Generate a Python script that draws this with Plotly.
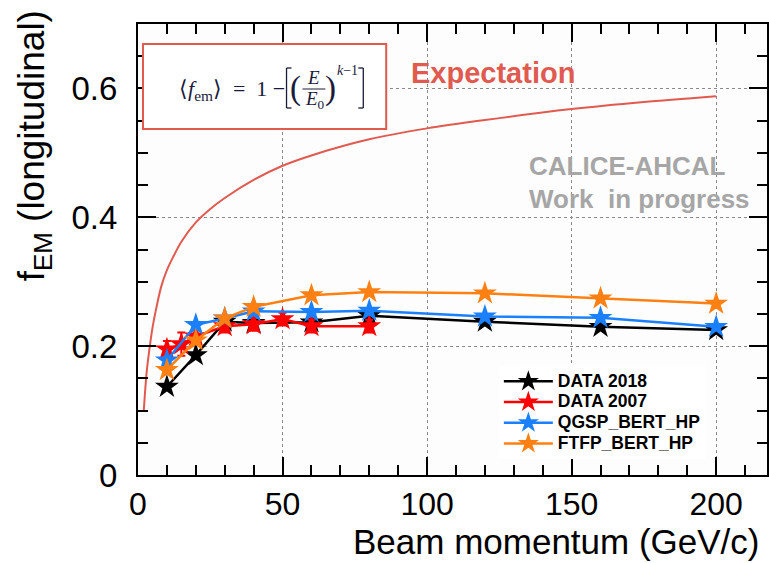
import plotly.graph_objects as go

# ---- data ---------------------------------------------------------------
e_2018 = [10, 20, 30, 40, 60, 80, 120, 160, 200]
f_2018 = [0.137, 0.186, 0.238, 0.236, 0.237, 0.247, 0.238, 0.230, 0.225]

e_2007 = [10, 15, 20, 30, 40, 50, 60, 80]
f_2007 = [0.195, 0.203, 0.215, 0.231, 0.234, 0.242, 0.231, 0.231]
err_2007 = [0.013, 0.018, 0.012, 0.010, 0.010, 0.010, 0.010, 0.010]

e_qgsp = [10, 20, 30, 40, 60, 80, 120, 160, 200]
f_qgsp = [0.178, 0.233, 0.243, 0.254, 0.253, 0.255, 0.246, 0.244, 0.230]

e_ftfp = [10, 20, 30, 40, 60, 80, 120, 160, 200]
f_ftfp = [0.163, 0.209, 0.243, 0.261, 0.279, 0.284, 0.282, 0.274, 0.266]

# expectation <f_em> = 1 - (E/E0)^(k-1), sampled values
e_expect = [2, 3, 4, 5, 6, 8, 10, 12, 15, 20, 25, 30, 40, 50, 60, 80,
            100, 120, 150, 175, 200]
f_expect = [0.100, 0.160, 0.197, 0.228, 0.252, 0.292, 0.318, 0.337, 0.362,
            0.392, 0.413, 0.430, 0.458, 0.480, 0.496, 0.521, 0.538, 0.551,
            0.568, 0.579, 0.588]

x_ticks = [0, 50, 100, 150, 200]
y_ticks = [0, 0.2, 0.4, 0.6]
y_ticktext = ["0", "0.2", "0.4", "0.6"]

# ---- page geometry (pixels) --------------------------------------------
W, H = 769, 563
L, R, T, B = 138, 0, 24, 88
PW, PH = W - L - R, H - T - B


def px(xp):
    return (xp - L) / PW


def py(yp):
    return (H - B - yp) / PH


SANS = "Liberation Sans, Arial, Helvetica, sans-serif"
SERIF = "Liberation Serif, Times New Roman, serif"
RED_EXP = "#e05a50"
INK = "#1a1a3a"

fig = go.Figure()

fig.add_trace(go.Scatter(
    x=e_expect, y=f_expect, mode="lines",
    line=dict(color=RED_EXP, width=2, shape="spline", smoothing=0.8),
    showlegend=False, hoverinfo="skip"))

series = [
    ("DATA 2018", e_2018, f_2018, None, "#000000"),
    ("DATA 2007", e_2007, f_2007, err_2007, "#ff0000"),
    ("QGSP_BERT_HP", e_qgsp, f_qgsp, None, "#1a80ff"),
    ("FTFP_BERT_HP", e_ftfp, f_ftfp, None, "#ff8012"),
]
for name, xs, ys, err, col in series:
    fig.add_trace(go.Scatter(
        x=xs, y=ys, mode="lines+markers",
        name='<span style="font-size:17.5px"><b>%s</b></span>' % name,
        line=dict(color=col, width=2.5),
        marker=dict(symbol="star", size=18, color=col, line=dict(width=0)),
        error_y=(dict(type="data", array=err, color=col, thickness=2,
                      width=4) if err else None),
    ))

axis_common = dict(
    ticks="inside", tickwidth=2, ticklen=18, tickcolor="black",
    showline=True, linewidth=2, linecolor="black", mirror="ticks",
    showgrid=True, gridcolor="#8a8a8a", griddash="dot", gridwidth=1,
    zeroline=False,
)

fig.update_xaxes(range=[0, PW / 2.9], tickvals=x_ticks,
                 minor=dict(dtick=10, ticks="inside", ticklen=10,
                            tickwidth=1.5, tickcolor="black", showgrid=False),
                 tickfont=dict(family=SANS, size=32, color="black"),
                 ticklabelstandoff=0, **axis_common)
fig.update_yaxes(range=[0, 0.7], tickvals=y_ticks, ticktext=y_ticktext,
                 minor=dict(dtick=0.05, ticks="inside", ticklen=10,
                            tickwidth=1.5, tickcolor="black", showgrid=False),
                 tickfont=dict(family=SANS, size=33, color="black"),
                 ticklabelstandoff=12, **axis_common)

# formula box with hand-drawn square brackets and fraction bar
shapes = [dict(type="rect", xref="paper", yref="paper",
               x0=px(143), x1=px(387), y0=py(129), y1=py(44),
               line=dict(color=RED_EXP, width=2), fillcolor="white",
               layer="above")]


def seg(x0, y0, x1, y1, w=1.3):
    shapes.append(dict(type="line", xref="paper", yref="paper",
                       x0=px(x0), x1=px(x1), y0=py(y0), y1=py(y1),
                       line=dict(color=INK, width=w), layer="above"))


seg(303, 89, 326, 89, 1)          # fraction bar
seg(287, 68, 287, 108)            # [
seg(287, 68, 292, 68)
seg(287, 108, 292, 108)
seg(364, 68, 364, 108)            # ]
seg(359, 68, 364, 68)
seg(359, 108, 364, 108)

annotations = []


def txt(text, xp, yp, size, color="black", family=SANS, xanchor="center",
        angle=0):
    annotations.append(dict(
        text=text, x=px(xp), y=py(yp), xref="paper", yref="paper",
        xanchor=xanchor, yanchor="middle", showarrow=False, borderpad=0,
        textangle=angle, font=dict(family=family, size=size, color=color)))


txt("\u27e8<i>f</i><sub>em</sub>\u27e9 \u00a0= \u00a01 \u2212", 178, 90, 22,
    INK, SERIF, "left")
txt("(", 296, 88, 33, INK, SERIF)
txt("<i>E</i>", 314, 77, 19, INK, SERIF)
txt("<i>E</i><sub>0</sub>", 316, 100, 19, INK, SERIF)
txt(")", 331, 88, 33, INK, SERIF)
txt("<i>k</i>\u22121", 348, 70, 14, INK, SERIF)

txt("<b>Expectation</b>", 411, 73, 29, RED_EXP, SANS, "left")
txt("<b>CALICE-AHCAL</b>", 529, 166, 26, "#a6a6a6", SANS, "left")
txt("<b>Work\u00a0 in progress</b>", 529, 199, 26, "#a6a6a6", SANS, "left")

txt("f<sub>EM</sub> (longitudinal)", 34, 146, 37, "black", SANS, "center",
    -90)
txt("Beam momentum (GeV/c)", 763, 541, 35, "black", SANS, "right")

fig.update_layout(
    width=W, height=H,
    margin=dict(l=L, r=R, t=T, b=B),
    paper_bgcolor="white", plot_bgcolor="#fdfdfd",
    shapes=shapes, annotations=annotations,
    legend=dict(x=px(500), y=py(366), xanchor="left", yanchor="top",
                bgcolor="white", borderwidth=0,
                font=dict(family=SANS, size=13.6, color="black"),
                tracegroupgap=0, itemwidth=49),
    font=dict(family=SANS),
)

fig.write_html("out.html")
